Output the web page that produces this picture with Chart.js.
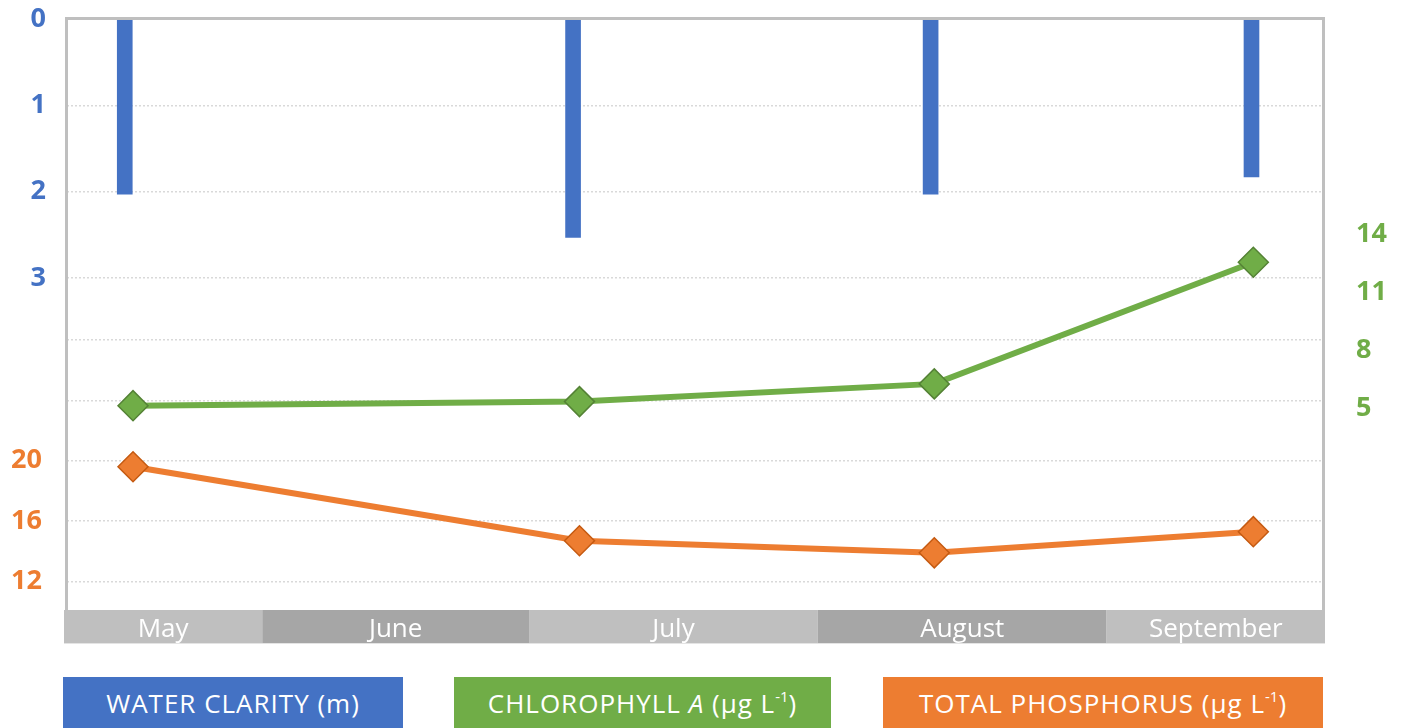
<!DOCTYPE html>
<html>
<head>
<meta charset="utf-8">
<script src="https://cdn.jsdelivr.net/npm/chart.js@4.4.1/dist/chart.umd.min.js"></script>
<style>
  html, body { margin: 0; padding: 0; background: #fff; overflow: hidden; }
  body { width: 1403px; height: 728px; position: relative; font-family: "Open Sans", sans-serif; }
  #wrap { position: absolute; left: 0; top: 0; width: 1403px; height: 660px; }
  .key { position: absolute; top: 677px; height: 52px; line-height: 52px; color: #fff; font-size: 26px; letter-spacing: 1px; text-align: center; white-space: nowrap; }
  .key sup { font-size: 15px; line-height: 0; vertical-align: 11px; letter-spacing: 0; }
</style>
</head>
<body>
<div id="wrap"><canvas id="chart" width="1403" height="660"></canvas></div>
<div class="key" style="left:63px;width:340px;background:#4472C4">WATER CLARITY (m)</div>
<div class="key" style="left:454px;width:377px;background:#70AD47">CHLOROPHYLL <i>A</i> (μg L<sup>-1</sup>)</div>
<div class="key" style="left:883px;width:440px;background:#ED7D31">TOTAL PHOSPHORUS (μg L<sup>-1</sup>)</div>
<script>
// season axis = days counted from 1 May
const months = ['May', 'June', 'July', 'August', 'September'];
const monthEdges = [10, 31.3, 60.4, 91.9, 123.4, 147];

const clarityDays = [16.3, 65.2, 104.2, 139.2];
const clarity = [2.03, 2.53, 2.03, 1.83];

const sampleDays = [17.2, 65.9, 104.6, 139.4];
const chlorophyll = [5.12, 5.33, 6.25, 12.57];
const phosphorus = [19.6, 14.7, 13.9, 15.3];

const clarityTicks = [0, 1, 2, 3];
const chlorophyllTicks = [5, 8, 11, 14];
const phosphorusTicks = [12, 16, 20];
const phosphorusGrid = [12, 16, 20, 24, 28];

const BLUE = '#4472C4', GREEN = '#70AD47', ORANGE = '#ED7D31';
const FONT = "'Open Sans', sans-serif";

const toPoints = (xs, ys) => xs.map((x, i) => ({ x: x, y: ys[i] }));
const fixTicks = (vals) => (scale) => { scale.ticks = vals.map(v => ({ value: v })); };
// keep label overhang from pushing the plot area in
const fixWidth = (w) => (s) => {
  s.width = w;
  s.paddingTop = 0;
  s.paddingBottom = 0;
};
const gridStyle = { color: '#D9D9D9', lineWidth: 1.5, drawTicks: false };
const tickFont = { family: FONT, size: 27, weight: 'bold' };

const monthBands = {
  id: 'monthBands',
  afterDraw(chart) {
    const { ctx, chartArea, scales } = chart;
    const x = scales.x;
    const top = chartArea.bottom + 1, h = 33;
    ctx.save();
    months.forEach((m, i) => {
      let x0 = x.getPixelForValue(monthEdges[i]);
      let x1 = x.getPixelForValue(monthEdges[i + 1]);
      if (i === 0) x0 -= 3;
      if (i === months.length - 1) x1 += 2;
      ctx.fillStyle = i % 2 ? '#A6A6A6' : '#BFBFBF';
      ctx.fillRect(x0, top, x1 - x0, h);
      ctx.fillStyle = '#fff';
      ctx.font = '26px ' + FONT;
      ctx.textAlign = 'center';
      ctx.textBaseline = 'middle';
      ctx.fillText(m, (x0 + x1) / 2, top + h / 2 + 3);
    });
    ctx.fillStyle = '#E4E4E4';
    ctx.fillRect(chartArea.left - 3, top + h, chartArea.right - chartArea.left + 5, 1);

    // grey frame round the plot
    ctx.strokeStyle = '#BFBFBF';
    ctx.lineWidth = 3;
    ctx.beginPath();
    ctx.moveTo(chartArea.left - 0.5, chartArea.bottom + 1);
    ctx.lineTo(chartArea.left - 0.5, chartArea.top - 0.5);
    ctx.lineTo(chartArea.right + 0.5, chartArea.top - 0.5);
    ctx.lineTo(chartArea.right + 0.5, chartArea.bottom + 1);
    ctx.stroke();
    ctx.restore();
  }
};

new Chart(document.getElementById('chart'), {
  type: 'bar',
  data: {
    datasets: [
      {
        type: 'line',
        data: toPoints(sampleDays, chlorophyll),
        yAxisID: 'yChl',
        borderColor: GREEN,
        borderWidth: 6,
        pointStyle: 'rectRot',
        pointRadius: 15,
        pointBackgroundColor: GREEN,
        pointBorderColor: '#548235',
        pointBorderWidth: 1.5,
        order: 1
      },
      {
        type: 'line',
        data: toPoints(sampleDays, phosphorus),
        yAxisID: 'yPhos',
        borderColor: ORANGE,
        borderWidth: 6,
        pointStyle: 'rectRot',
        pointRadius: 15,
        pointBackgroundColor: ORANGE,
        pointBorderColor: '#C55A11',
        pointBorderWidth: 1.5,
        order: 2
      },
      {
        type: 'bar',
        data: toPoints(clarityDays, clarity),
        yAxisID: 'yClarity',
        backgroundColor: BLUE,
        barThickness: 15,
        order: 3
      }
    ]
  },
  options: {
    responsive: false,
    animation: false,
    layout: { padding: { top: 19, left: 0, right: 0, bottom: 0 } },
    plugins: { legend: { display: false }, tooltip: { enabled: false } },
    scales: {
      x: {
        type: 'linear',
        offset: false,
        min: monthEdges[0],
        max: monthEdges[monthEdges.length - 1],
        ticks: { display: false },
        grid: { display: false },
        border: { display: false },
        afterFit: (s) => { s.height = 51; s.paddingLeft = 0; s.paddingRight = 0; }
      },
      yClarity: {
        type: 'linear',
        position: 'left',
        stack: 'left',
        stackWeight: 281,
        weight: 2,
        reverse: true,
        min: 0,
        max: 3.256,
        afterBuildTicks: fixTicks(clarityTicks),
        afterFit: fixWidth(67),
        ticks: { color: BLUE, padding: 21, font: tickFont },
        grid: gridStyle,
        border: { display: false, dash: [2, 2] }
      },
      yPhos: {
        type: 'linear',
        position: 'left',
        stack: 'left',
        stackWeight: 309,
        weight: 1,
        min: 10.18,
        max: 30.64,
        afterBuildTicks: fixTicks(phosphorusGrid),
        afterFit: fixWidth(67),
        ticks: {
          color: ORANGE, padding: 25, font: tickFont,
          callback: (v) => phosphorusTicks.includes(v) ? v : ''
        },
        grid: gridStyle,
        border: { display: false, dash: [2, 2] }
      },
      yChl: {
        type: 'linear',
        position: 'right',
        min: -5.44,
        max: 25.2,
        afterBuildTicks: fixTicks(chlorophyllTicks),
        afterFit: fixWidth(80),
        ticks: { color: GREEN, padding: 25, font: tickFont },
        grid: { display: false },
        border: { display: false }
      }
    }
  },
  plugins: [monthBands]
});
</script>
</body>
</html>
